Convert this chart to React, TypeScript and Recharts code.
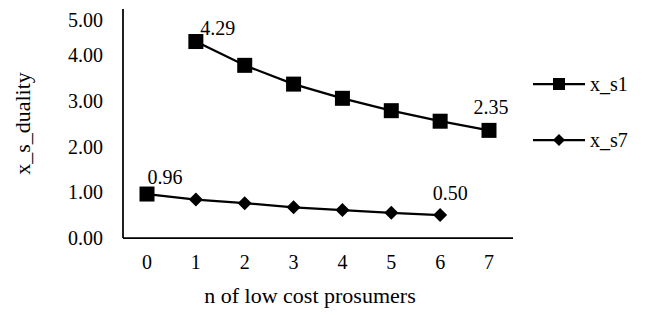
import { LineChart, Line, XAxis, YAxis, Legend, LabelList, Label } from 'recharts';

const categories = ['0', '1', '2', '3', '4', '5', '6', '7'];
const xS1 = [null, 4.29, 3.77, 3.36, 3.05, 2.78, 2.55, 2.35];
const xS7 = [0.96, 0.84, 0.76, 0.67, 0.61, 0.55, 0.5, null];
const yTicks = [0, 1, 2, 3, 4, 5];

const data = categories.map((n, i) => ({ n, x_s1: xS1[i], x_s7: xS7[i] }));

const FONT = '"Liberation Serif", "Times New Roman", serif';
const titleStyle = { fill: '#000', fontSize: 22, fontFamily: FONT };

const square = (cx: number, cy: number, s: number, key?: any) => (
  <rect key={key} x={cx - s / 2} y={cy - s / 2} width={s} height={s} fill="#000" />
);
const diamond = (cx: number, cy: number, s: number, key?: any) => (
  <polygon
    key={key}
    points={`${cx},${cy - s / 2} ${cx + s / 2},${cy} ${cx},${cy + s / 2} ${cx - s / 2},${cy}`}
    fill="#000"
  />
);

const S1Dot = (p: any) => (p.cy == null ? <g key={p.key} /> : square(p.cx, p.cy, 15, p.key));
const S7Dot = (p: any) =>
  p.cy == null ? <g key={p.key} /> : p.index === 0 ? square(p.cx, p.cy, 15, p.key) : diamond(p.cx, p.cy, 14, p.key);

// label offsets for the end points
const s1Offsets: Record<number, [number, number]> = { 1: [22, -14], 7: [2, -23] };
const s7Offsets: Record<number, [number, number]> = { 0: [18, -17], 6: [10, -22] };

const endLabel = (offsets: Record<number, [number, number]>) => (p: any) => {
  const off = offsets[p.index];
  if (!off || p.value == null) return null;
  return (
    <text
      x={p.x + off[0]}
      y={p.y + off[1]}
      textAnchor="middle"
      dominantBaseline="central"
      style={{ fontFamily: FONT, fontSize: 20, fill: '#000' }}
    >
      {Number(p.value).toFixed(2)}
    </text>
  );
};

const LegendContent = () => (
  <div style={{ paddingLeft: 20, fontFamily: FONT, fontSize: 20, color: '#000' }}>
    {[
      { name: 'x_s1', shape: 'square' },
      { name: 'x_s7', shape: 'diamond' },
    ].map((it, i) => (
      <div key={it.name} style={{ display: 'flex', alignItems: 'center', height: 24, marginBottom: i === 0 ? 32 : 0 }}>
        <svg width={52} height={24} style={{ display: 'block' }}>
          <line x1={0} y1={12} x2={52} y2={12} stroke="#000" strokeWidth={2.25} />
          {it.shape === 'square' ? square(26, 12, 12) : diamond(26, 12, 12)}
        </svg>
        <span style={{ marginLeft: 5, lineHeight: '24px' }}>{it.name}</span>
      </div>
    ))}
  </div>
);

const App = () => {
  return (
    <div style={{ fontFamily: FONT }}>
      <LineChart
        width={647}
        height={307}
        data={data}
        margin={{ top: 1, right: 20, left: 0, bottom: 0 }}
        style={{ fontFamily: FONT }}
      >
        <XAxis
          dataKey="n"
          type="category"
          height={77}
          padding={{ left: 24, right: 24 }}
          axisLine={{ stroke: '#000', strokeWidth: 1.75 }}
          tickLine={false}
          tickMargin={11}
          tick={{ fill: '#000', fontSize: 20, fontFamily: FONT }}
          interval={0}
        >
          <Label
            value="n of low cost prosumers"
            position="insideBottom"
            offset={12}
            dx={-8}
            fill="#000"
            fontSize={22}
            fontFamily={FONT}
            style={titleStyle}
          />
        </XAxis>
        <YAxis
          width={115}
          domain={[0, 5]}
          ticks={yTicks}
          tickFormatter={(v: number) => v.toFixed(2)}
          axisLine={{ stroke: '#000', strokeWidth: 1.75 }}
          tickLine={false}
          tickMargin={14}
          tick={{ fill: '#000', fontSize: 20, fontFamily: FONT }}
        >
          <Label
            value="x_s_duality"
            angle={-90}
            position="insideLeft"
            offset={14}
            fill="#000"
            fontSize={22}
            fontFamily={FONT}
            textAnchor="middle"
            style={titleStyle}
          />
        </YAxis>
        <Legend
          layout="vertical"
          align="right"
          verticalAlign="top"
          width={122}
          wrapperStyle={{ top: 64 }}
          content={<LegendContent />}
        />
        <Line
          dataKey="x_s1"
          name="x_s1"
          stroke="#000"
          strokeWidth={2.25}
          dot={S1Dot}
          activeDot={false}
          isAnimationActive={false}
        >
          <LabelList dataKey="x_s1" content={endLabel(s1Offsets)} />
        </Line>
        <Line
          dataKey="x_s7"
          name="x_s7"
          stroke="#000"
          strokeWidth={2.25}
          dot={S7Dot}
          activeDot={false}
          isAnimationActive={false}
        >
          <LabelList dataKey="x_s7" content={endLabel(s7Offsets)} />
        </Line>
      </LineChart>
    </div>
  );
};

export default App;
